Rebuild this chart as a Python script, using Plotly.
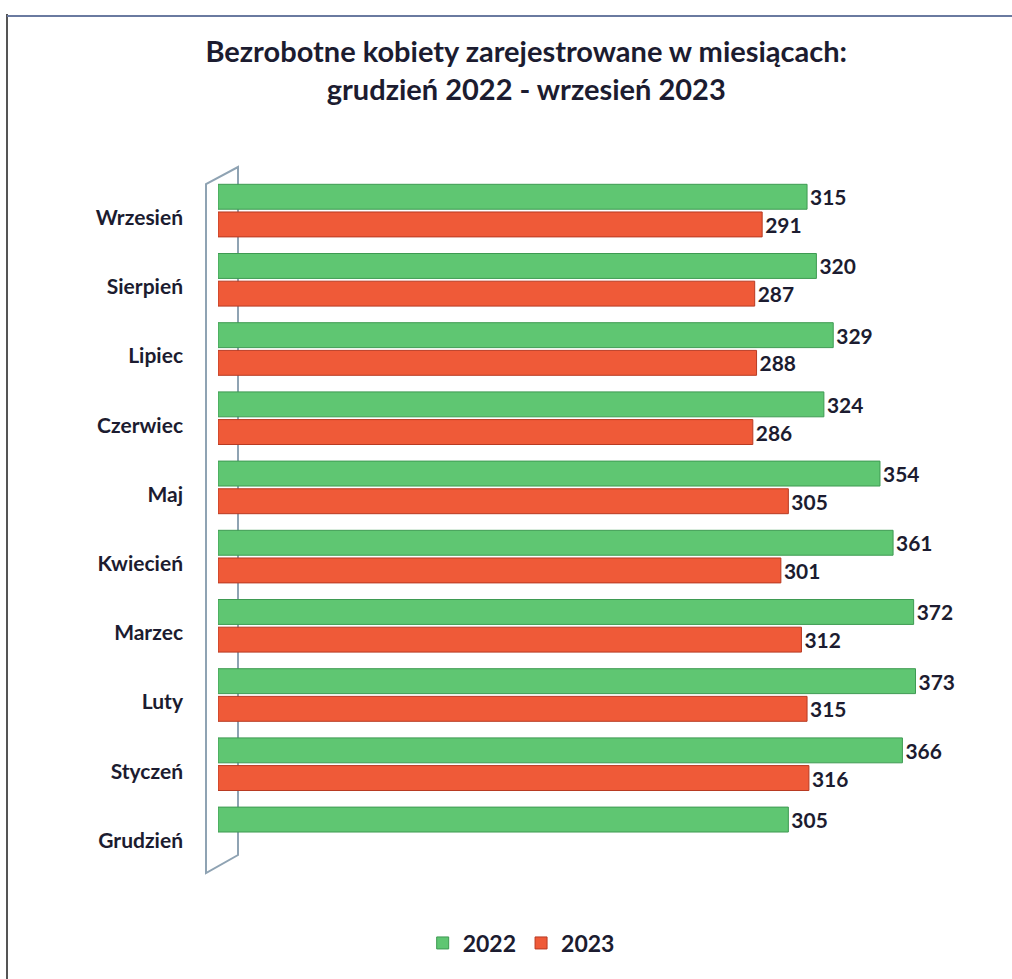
import plotly.graph_objects as go

months = ["Wrzesień", "Sierpień", "Lipiec", "Czerwiec", "Maj",
          "Kwiecień", "Marzec", "Luty", "Styczeń", "Grudzień"]
values_2022 = [315, 320, 329, 324, 354, 361, 372, 373, 366, 305]
values_2023 = [291, 287, 288, 286, 305, 301, 312, 315, 316, None]
series_names = ["2022", "2023"]

W, H = 1012, 979
ML, MR, MT, MB = 218, 12, 176, 111
PW, PH = W - ML - MR, H - MT - MB

def px(x):
    return (x - ML) / PW

def py(y):
    return (H - MB - y) / PH

FONT = "Lato"
DARK = "#1c1c30"

fig = go.Figure()
fig.add_trace(go.Bar(
    y=months, x=values_2022, name=series_names[0], orientation="h",
    marker=dict(color="#5fc672", line=dict(color="#3e9a52", width=1)),
    text=values_2022, textposition="outside", cliponaxis=False,
    textfont=dict(family=FONT, size=21, color=DARK, weight="bold"),
))
fig.add_trace(go.Bar(
    y=months, x=values_2023, name=series_names[1], orientation="h",
    marker=dict(color="#ef5a38", line=dict(color="#b83a22", width=1)),
    text=values_2023, textposition="outside", cliponaxis=False,
    textfont=dict(family=FONT, size=21, color=DARK, weight="bold"),
))

wall = "#8fa3b3"
shapes = [
    # 3D wall outline
    dict(type="path", xref="paper", yref="paper",
         path=(f"M {px(206)},{py(873)} L {px(206)},{py(184)} L {px(238)},{py(167)} "
               f"L {px(238)},{py(855)} Z"),
         line=dict(color=wall, width=2), layer="below"),
    # page frame
    dict(type="line", xref="paper", yref="paper",
         x0=px(7), x1=px(7), y0=py(14), y1=py(979),
         line=dict(color="#555555", width=2)),
    dict(type="line", xref="paper", yref="paper",
         x0=px(7), x1=px(1012), y0=py(16), y1=py(16),
         line=dict(color="#6a7aa0", width=2)),
]

fig.update_layout(
    width=W, height=H,
    margin=dict(l=ML, r=MR, t=MT, b=MB),
    paper_bgcolor="white", plot_bgcolor="white",
    barmode="group", bargap=0.2, bargroupgap=0.1,
    title=dict(
        text="Bezrobotne kobiety zarejestrowane w miesiącach:<br>grudzień 2022 - wrzesień 2023",
        x=0.52, xanchor="center", y=1 - 62 / H, yanchor="middle",
        font=dict(family=FONT, size=29, color=DARK, weight="bold"),
    ),
    xaxis=dict(range=[0, PW / 1.87], visible=False, showgrid=False, zeroline=False),
    yaxis=dict(autorange="reversed", showgrid=False, zeroline=False, showline=False,
               ticks="", ticklabelstandoff=34, ticklabelshift=-7,
               tickfont=dict(family=FONT, size=21, color=DARK, weight="bold")),
    legend=dict(orientation="h", xref="container", yref="container",
                x=0.515, xanchor="center", y=1 - 943 / H, yanchor="middle",
                font=dict(family=FONT, size=23, color=DARK, weight="bold"),
                itemwidth=30),
    shapes=shapes,
    showlegend=True,
)

fig.write_html("out.html", config={"displayModeBar": False},
               post_script="document.body.style.margin='0';")
